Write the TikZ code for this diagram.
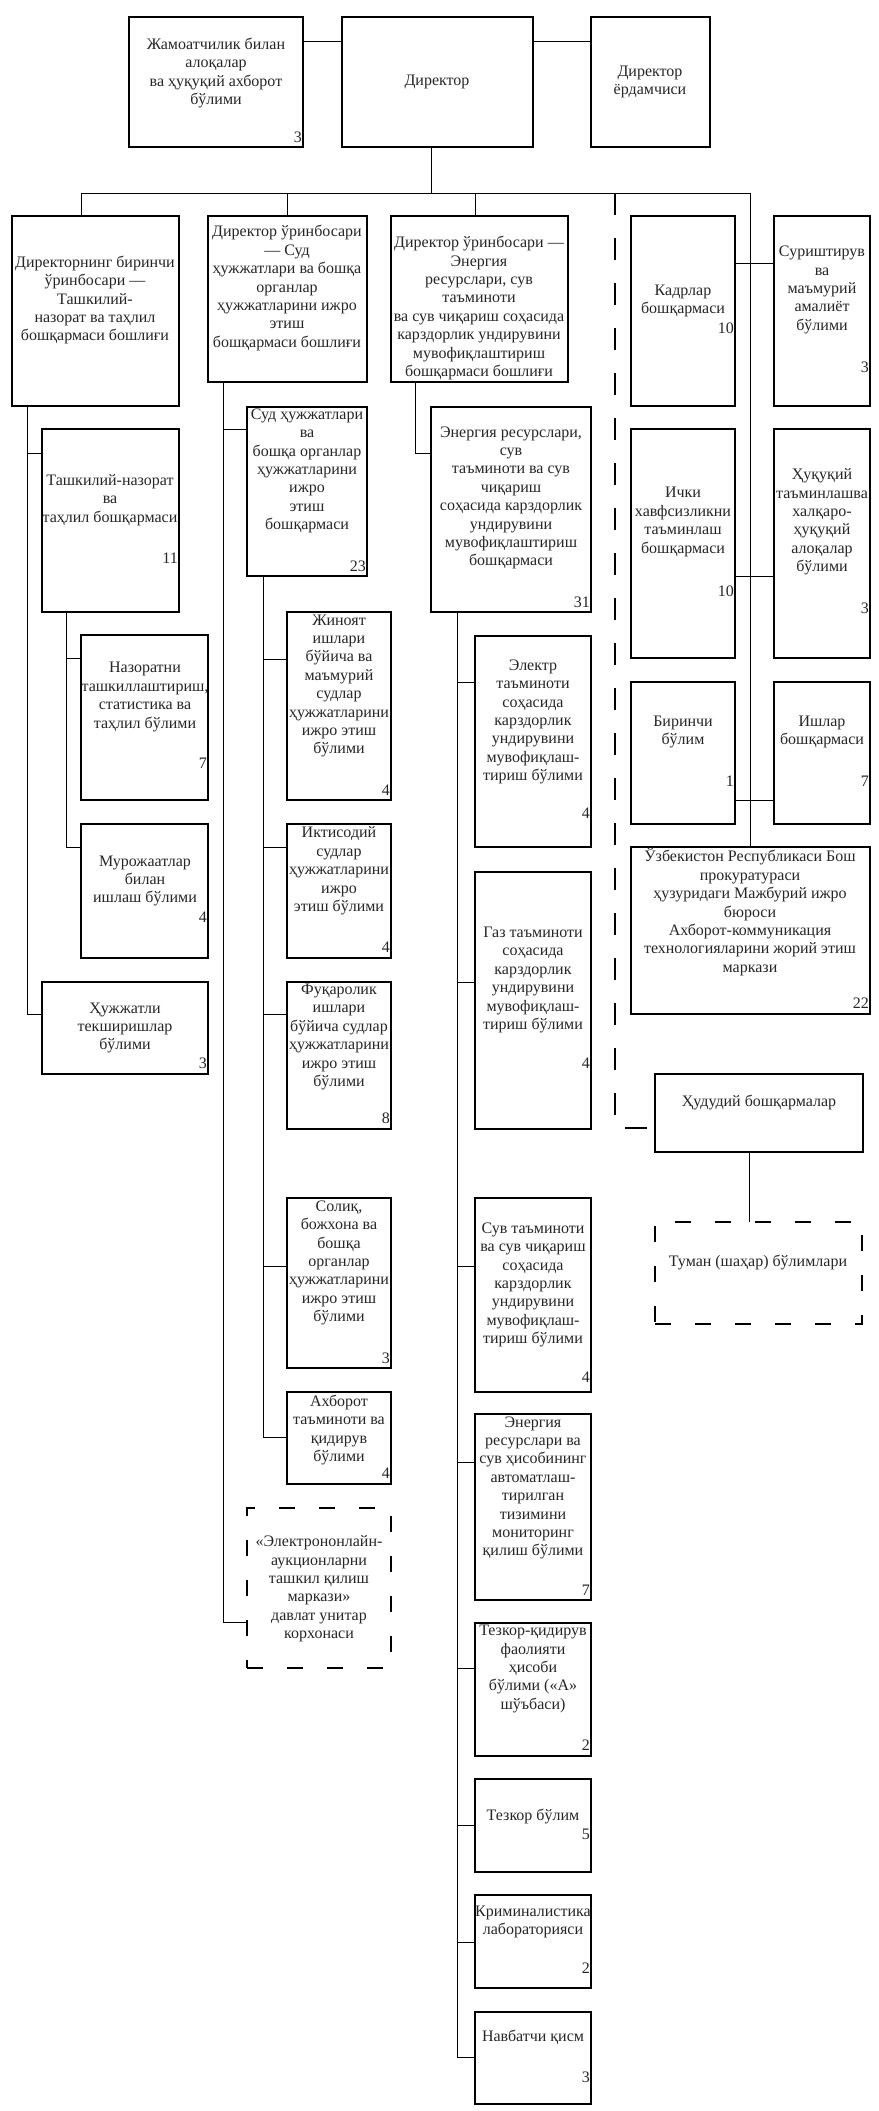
\documentclass[tikz,border=0pt]{standalone}
\usepackage{fontspec}
\setmainfont{Liberation Serif}
\newcommand\fs{\fontsize{16}{18.4}\selectfont}
\tikzset{
 box/.style={draw, line width=1.1pt, inner sep=0pt, outer sep=0pt},
 dbox/.style={box, dash pattern=on 16pt off 24pt},
 txt/.style={align=center, inner sep=0pt, font=\fs, text=black!85},
 num/.style={anchor=east, inner sep=1pt, font=\fs, text=black!85},
 con/.style={line width=0.9pt},
 dcon/.style={line width=1.1pt, dash pattern=on 22pt off 23pt},
}
\newcommand\bx[6][box]{\node[#1, minimum width={(#5-#3)*1pt}, minimum height={(#6-#4)*1pt}] (#2) at ({(#3+#5)/2},{(#4+#6)/2}) {};}
\newcommand\tx[4]{\node[txt] (#1t) at (#2,#3) {#4};}
\newcommand\nm[3]{\node[num] (#1n) at (#1.east |- 0,#2) {#3};}
\begin{document}
\begin{tikzpicture}[x=1pt,y=-1pt]
\useasboundingbox[fill=white] (0,0) rectangle (878,2111);
% boxes
\bx{zhm}{129}{17}{303}{147}
\bx{dir}{342}{17}{533}{147}
\bx{yor}{591}{17}{710}{147}
\bx{b1}{12}{216}{179}{406}
\bx{b2}{208}{216}{367}{382}
\bx{b3}{391}{216}{568}{382}
\bx{kad}{631}{216}{735}{406}
\bx{sur}{774}{216}{870}{406}
\bx{tn}{42}{429}{179}{612}
\bx{sud}{247}{407}{367}{576}
\bx{en}{431}{407}{591}{612}
\bx{ich}{631}{429}{735}{658}
\bx{huq}{774}{429}{870}{658}
\bx{naz}{81}{635}{208}{800}
\bx{jin}{287}{612}{391}{800}
\bx{el}{475}{636}{591}{847}
\bx{bir}{631}{682}{735}{824}
\bx{ish}{774}{682}{870}{824}
\bx{mur}{81}{824}{208}{958}
\bx{ikt}{287}{824}{391}{958}
\bx{uzb}{631}{847}{870}{1014}
\bx{gaz}{475}{872}{591}{1129}
\bx{hj}{42}{982}{208}{1074}
\bx{fuq}{287}{982}{391}{1129}
\bx{hud}{655}{1074}{863}{1152}
\bx{sol}{287}{1198}{391}{1368}
\bx{suv}{475}{1198}{591}{1392}
\bx[dbox]{tum}{655}{1222}{862}{1324}
\bx{ax}{287}{1392}{391}{1484}
\bx{ers}{475}{1414}{591}{1600}
\bx[dbox]{eo}{247}{1508}{391}{1668}
\bx{tq}{475}{1623}{591}{1756}
\bx{tb}{475}{1779}{591}{1872}
\bx{kr}{475}{1895}{591}{1988}
\bx{nav}{475}{2012}{591}{2104}
% texts
\tx{zhm}{216}{73}{Жамоатчилик билан\\алоқалар\\ва ҳуқуқий ахборот\\бўлими}
\tx{dir}{437}{82}{Директор}
\tx{yor}{650}{82}{Директор\\ёрдамчиси}
\tx{b1}{95}{300}{Директорнинг биринчи\\ўринбосари —\\Ташкилий-\\назорат ва таҳлил\\бошқармаси бошлиғи}
\tx{b2}{287}{288}{Директор ўринбосари\\— Суд\\ҳужжатлари ва бошқа\\органлар\\ҳужжатларини ижро\\этиш\\бошқармаси бошлиғи}
\tx{b3}{479}{308}{Директор ўринбосари —\\Энергия\\ресурслари, сув\\таъминоти\\ва сув чиқариш соҳасида\\карздорлик ундирувини\\мувофиқлаштириш\\бошқармаси бошлиғи}
\tx{kad}{683}{301}{Кадрлар\\бошқармаси}
\tx{sur}{822}{290}{Суриштирув\\ва\\маъмурий\\амалиёт\\бўлими}
\tx{tn}{110}{500}{Ташкилий-назорат\\ва\\таҳлил бошқармаси}
\tx{sud}{307}{471}{Суд ҳужжатлари\\ва\\бошқа органлар\\ҳужжатларини\\ижро\\этиш\\бошқармаси}
\tx{en}{511}{498}{Энергия ресурслари,\\сув\\таъминоти ва сув\\чиқариш\\соҳасида карздорлик\\ундирувини\\мувофиқлаштириш\\бошқармаси}
\tx{ich}{683}{522}{Ички\\хавфсизликни\\таъминлаш\\бошқармаси}
\tx{huq}{822}{522}{Ҳуқуқий\\таъминлашва\\халқаро-\\ҳуқуқий\\алоқалар\\бўлими}
\tx{naz}{145}{697}{Назоратни\\ташкиллаштириш,\\статистика ва\\таҳлил бўлими}
\tx{jin}{339}{686}{Жиноят\\ишлари\\бўйича ва\\маъмурий\\судлар\\ҳужжатларини\\ижро этиш\\бўлими}
\tx{el}{533}{722}{Электр\\таъминоти\\соҳасида\\карздорлик\\ундирувини\\мувофиқлаш-\\тириш бўлими}
\tx{bir}{683}{732}{Биринчи\\бўлим}
\tx{ish}{822}{732}{Ишлар\\бошқармаси}
\tx{mur}{145}{881}{Мурожаатлар\\билан\\ишлаш бўлими}
\tx{ikt}{339}{871}{Иктисодий\\судлар\\ҳужжатларини\\ижро\\этиш бўлими}
\tx{uzb}{750}{912}{Ўзбекистон Республикаси Бош\\прокуратураси\\ҳузуридаги Мажбурий ижро\\бюроси\\Ахборот-коммуникация\\технологияларини жорий этиш\\маркази}
\tx{gaz}{533}{980}{Газ таъминоти\\соҳасида\\карздорлик\\ундирувини\\мувофиқлаш-\\тириш бўлими}
\tx{hj}{125}{1028}{Ҳужжатли\\текширишлар\\бўлими}
\tx{fuq}{339}{1037}{Фуқаролик\\ишлари\\бўйича судлар\\ҳужжатларини\\ижро этиш\\бўлими}
\tx{hud}{759}{1102}{Ҳудудий бошқармалар}
\tx{sol}{339}{1263}{Солиқ,\\божхона ва\\бошқа\\органлар\\ҳужжатларини\\ижро этиш\\бўлими}
\tx{suv}{533}{1285}{Сув таъминоти\\ва сув чиқариш\\соҳасида\\карздорлик\\ундирувини\\мувофиқлаш-\\тириш бўлими}
\tx{tum}{758}{1262}{Туман (шаҳар) бўлимлари}
\tx{ax}{339}{1430}{Ахборот\\таъминоти ва\\қидирув\\бўлими}
\tx{ers}{533}{1488}{Энергия\\ресурслари ва\\сув ҳисобининг\\автоматлаш-\\тирилган\\тизимини\\мониторинг\\қилиш бўлими}
\tx{eo}{319}{1589}{«Электрононлайн-\\аукционларни\\ташкил қилиш\\маркази»\\давлат унитар\\корхонаси}
\tx{tq}{533}{1669}{Тезкор-қидирув\\фаолияти\\ҳисоби\\бўлими («А»\\шўъбаси)}
\tx{tb}{533}{1816}{Тезкор бўлим}
\tx{kr}{533}{1922}{Криминалистика\\лабораторияси}
\tx{nav}{533}{2037}{Навбатчи қисм}
% numbers
\nm{zhm}{137}{3}
\nm{kad}{328}{10}
\nm{sur}{367}{3}
\nm{tn}{558}{11}
\nm{sud}{566}{23}
\nm{en}{602}{31}
\nm{ich}{591}{10}
\nm{huq}{608}{3}
\nm{naz}{763}{7}
\nm{jin}{790}{4}
\nm{el}{813}{4}
\nm{bir}{781}{1}
\nm{ish}{781}{7}
\nm{mur}{917}{4}
\nm{ikt}{947}{4}
\nm{uzb}{1003}{22}
\nm{gaz}{1063}{4}
\nm{hj}{1063}{3}
\nm{fuq}{1118}{8}
\nm{sol}{1358}{3}
\nm{suv}{1377}{4}
\nm{ax}{1473}{4}
\nm{ers}{1590}{7}
\nm{tq}{1745}{2}
\nm{tb}{1834}{5}
\nm{kr}{1968}{2}
\nm{nav}{2077}{3}
% junction coordinates
\coordinate (busL) at (81,193);
\coordinate (busR) at (750,193);
\coordinate (busD) at (615,193);
% connectors
\draw[con] (zhm.east |- 0,41) -- (dir.west |- 0,41);
\draw[con] (dir.east |- 0,41) -- (yor.west |- 0,41);
\draw[con] (dir.south -| 431,0) -- (busL -| 431,0);
\draw[con] (busL) -- (busR);
\draw[con] (busL) -- (busL |- b1.north);
\draw[con] (busL -| 287,0) -- (b2.north -| 287,0);
\draw[con] (busL -| 475,0) -- (b3.north -| 475,0);
\draw[con] (busR) -- (uzb.north -| busR);
\draw[dcon] (busD) |- (hud.west |- 0,1128);
\draw[con] (kad.east |- 0,263) -- (sur.west |- 0,263);
\draw[con] (ich.east |- 0,576) -- (huq.west |- 0,576);
\draw[con] (bir.east |- 0,800) -- (ish.west |- 0,800);
\draw[con] (hud.south -| 749,0) -- (tum.north -| 749,0);
% first deputy column
\draw[con] (b1.south -| 27,0) |- (hj.west |- 0,1014);
\draw[con] (27,453) -- (tn.west |- 0,453);
\draw[con] (tn.south -| 66,0) |- (mur.west |- 0,847);
\draw[con] (66,658) -- (naz.west |- 0,658);
% second deputy column
\draw[con] (b2.south -| 223,0) |- (eo.west |- 0,1622);
\draw[con] (223,429) -- (sud.west |- 0,429);
\draw[con] (sud.south -| 263,0) |- (ax.west |- 0,1437);
\draw[con] (263,659) -- (jin.west |- 0,659);
\draw[con] (263,847) -- (ikt.west |- 0,847);
\draw[con] (263,1014) -- (fuq.west |- 0,1014);
\draw[con] (263,1266) -- (sol.west |- 0,1266);
% third deputy column
\draw[con] (b3.south -| 415,0) |- (en.west |- 0,453);
\draw[con] (en.south -| 457,0) |- (nav.west |- 0,2057);
\draw[con] (457,682) -- (el.west |- 0,682);
\draw[con] (457,982) -- (gaz.west |- 0,982);
\draw[con] (457,1266) -- (suv.west |- 0,1266);
\draw[con] (457,1462) -- (ers.west |- 0,1462);
\draw[con] (457,1668) -- (tq.west |- 0,1668);
\draw[con] (457,1825) -- (tb.west |- 0,1825);
\draw[con] (457,1942) -- (kr.west |- 0,1942);
\end{tikzpicture}
\end{document}
